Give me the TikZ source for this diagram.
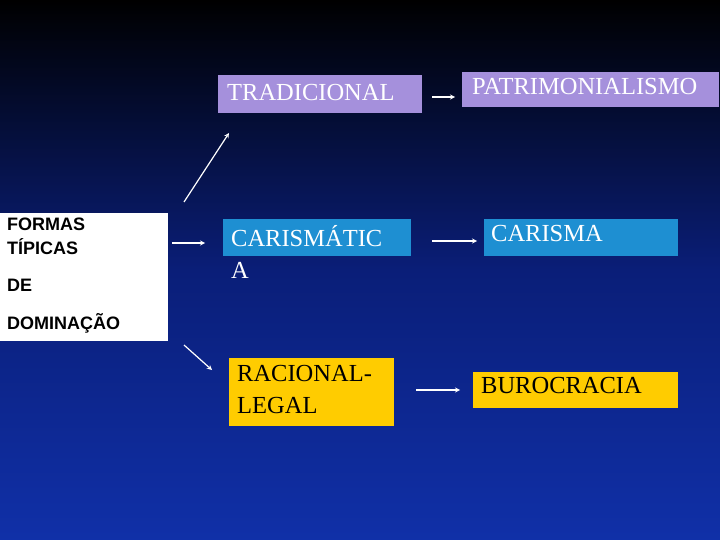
\documentclass[tikz,border=0pt]{standalone}
\usepackage{fontspec}
\setmainfont{Liberation Serif}
\setsansfont{Liberation Sans}
\definecolor{bgbot}{HTML}{1030A8}
\definecolor{bgmid}{HTML}{0A1E78}
\definecolor{lilac}{HTML}{A590DC}
\definecolor{cblue}{HTML}{1E8FD2}
\definecolor{gold}{HTML}{FFCC00}
\begin{document}
\begin{tikzpicture}[x=1pt,y=-1pt,
  lbl/.style={anchor=north west,font=\fontsize{24.5}{27}\selectfont,align=left,inner sep=0pt},
  slbl/.style={anchor=north west,font=\sffamily\bfseries\fontsize{18}{24}\selectfont,align=left,inner sep=0pt},
  arr/.style={draw=white,line width=1.2pt,-stealth}]
\shade[top color=black,bottom color=bgbot,middle color=bgmid] (0,0) rectangle (720,540);
\useasboundingbox (0,0) rectangle (720,540);
\fill[white] (0,213) rectangle (168,341);
\node[slbl] (f) at (7,218) {FORMAS\\TÍPICAS};
\node[slbl] (de) at (7,279) {DE};
\node[slbl] (dom) at (7,313) {DOMINAÇÃO};
\fill[lilac] (218,75) rectangle (422,113);
\node[lbl,text=white] (t) at (227,84) {TRADICIONAL};
\fill[lilac] (462,72) rectangle (719,107);
\node[lbl,text=white] (p) at (472,78) {PATRIMONIALISMO};
\fill[cblue] (223,219) rectangle (411,256);
\node[lbl,text=white,font=\fontsize{24.5}{32}\selectfont] (c) at (231,225) {CARISMÁTIC\\A};
\fill[cblue] (484,219) rectangle (678,256);
\node[lbl,text=white] (cm) at (491,225) {CARISMA};
\fill[gold] (229,358) rectangle (394,426);
\node[lbl,font=\fontsize{24.5}{32}\selectfont] (r) at (237,365) {RACIONAL-\\LEGAL};
\fill[gold] (473,372) rectangle (678,408);
\node[lbl] (b) at (481,377) {BUROCRACIA};
\coordinate (a1) at (184,202); \coordinate (a2) at (229,133);
\coordinate (b1) at (172,243); \coordinate (b2) at (205,243);
\coordinate (c1) at (184,345); \coordinate (c2) at (212,370);
\coordinate (d1) at (432,97); \coordinate (d2) at (455,97);
\coordinate (e1) at (432,241); \coordinate (e2) at (477,241);
\coordinate (g1) at (416,390); \coordinate (g2) at (460,390);
\draw[arr] (a1) -- (a2);
\draw[arr] (b1) -- (b2);
\draw[arr] (c1) -- (c2);
\draw[arr] (d1) -- (d2);
\draw[arr] (e1) -- (e2);
\draw[arr] (g1) -- (g2);
\end{tikzpicture}
\end{document}
